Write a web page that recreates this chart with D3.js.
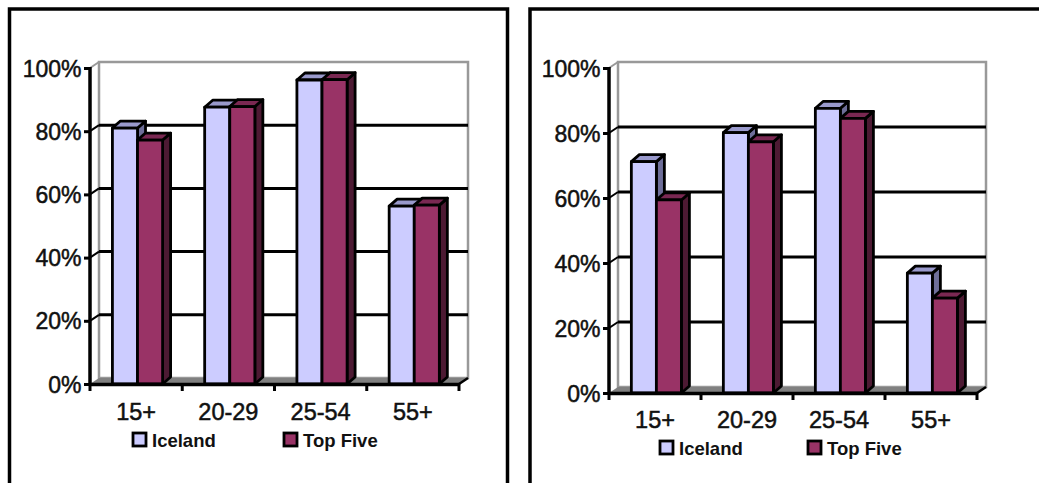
<!DOCTYPE html>
<html>
<head>
<meta charset="utf-8">
<script src="https://cdn.jsdelivr.net/npm/d3@7/dist/d3.min.js"></script>
<style>
  html, body { margin: 0; padding: 0; background: #fff; }
  svg { display: block; }
  text { font-family: "Liberation Sans", Arial, sans-serif; }
</style>
</head>
<body>
<svg id="chart" width="1039" height="483"></svg>
<script>
// ---- data ----
const categories = ["15+", "20-29", "25-54", "55+"];
const seriesNames = ["Iceland", "Top Five"];
const yTicks = [0, 20, 40, 60, 80, 100];
const yTickLabels = ["0%", "20%", "40%", "60%", "80%", "100%"];
// left chart
const leftIceland = [81, 87.6, 96.2, 56.3];
const leftTopFive = [77.2, 87.8, 96.3, 56.6];
// right chart
const rightIceland = [71.2, 80.1, 87.6, 36.9];
const rightTopFive = [59.4, 77.3, 84.5, 29.2];

// ---- styles ----
const colors = {
  "Iceland":  { front: "#CCCCFF", top: "#9999CC", side: "#6E6E99" },
  "Top Five": { front: "#993366", top: "#7A2852", side: "#4D1A33" }
};

const svg = d3.select("#chart");

// panel borders
svg.append("rect").attr("x", 9.5).attr("y", 9).attr("width", 498).attr("height", 500)
  .attr("fill", "none").attr("stroke", "#000").attr("stroke-width", 3.5);
svg.append("rect").attr("x", 530).attr("y", 9).attr("width", 540).attr("height", 500)
  .attr("fill", "none").attr("stroke", "#000").attr("stroke-width", 3.5);

function drawChart(cfg, iceland, topFive) {
  const g = svg.append("g");
  const wdx = 9, wdy = -6;   // wall depth
  const bdx = 8, bdy = -7;   // bar depth
  const x0 = d3.scaleBand().domain(categories).range([cfg.x0, cfg.x1]).padding(0);
  const bw = x0.bandwidth();
  const x1 = d3.scaleBand().domain(seriesNames).range([bw * 0.243, bw * 0.787]).padding(0);
  const y = d3.scaleLinear().domain([0, 100]).range([cfg.yb, cfg.yt]);

  // back wall
  g.append("rect")
    .attr("x", cfg.x0 + wdx).attr("y", y(100) + wdy)
    .attr("width", cfg.x1 - cfg.x0).attr("height", y(0) - y(100))
    .attr("fill", "#fff").attr("stroke", "#999").attr("stroke-width", 2.5);

  // gridlines on back wall + side diagonals
  yTicks.filter(v => v > 0 && v < 100).forEach(v => {
    g.append("line")
      .attr("x1", cfg.x0 + wdx).attr("x2", cfg.x1 + wdx)
      .attr("y1", y(v) + wdy).attr("y2", y(v) + wdy)
      .attr("stroke", "#000").attr("stroke-width", 3);
    g.append("line")
      .attr("x1", cfg.x0).attr("x2", cfg.x0 + wdx)
      .attr("y1", y(v)).attr("y2", y(v) + wdy)
      .attr("stroke", "#000").attr("stroke-width", 2);
  });
  // top diagonal (gray)
  g.append("line")
    .attr("x1", cfg.x0).attr("x2", cfg.x0 + wdx)
    .attr("y1", y(100)).attr("y2", y(100) + wdy)
    .attr("stroke", "#999").attr("stroke-width", 2);

  // floor
  g.append("polygon")
    .attr("points", [
      [cfg.x0, y(0)], [cfg.x1, y(0)], [cfg.x1 + wdx, y(0) + wdy], [cfg.x0 + wdx, y(0) + wdy]
    ].map(p => p.join(",")).join(" "))
    .attr("fill", "#808080");
  g.append("line")
    .attr("x1", cfg.x1).attr("x2", cfg.x1 + wdx)
    .attr("y1", y(0)).attr("y2", y(0) + wdy)
    .attr("stroke", "#000").attr("stroke-width", 2.5);

  // bars
  categories.forEach((c, i) => {
    [["Iceland", iceland[i]], ["Top Five", topFive[i]]].forEach(([s, v]) => {
      const xl = x0(c) + x1(s), xr = xl + x1.bandwidth();
      const yt = y(v), yb = y(0);
      const col = colors[s];
      const bar = g.append("g").attr("stroke", "#000").attr("stroke-width", 2.8)
        .attr("stroke-linejoin", "round");
      // side
      bar.append("polygon")
        .attr("points", [[xr, yb], [xr + bdx, yb + bdy], [xr + bdx, yt + bdy], [xr, yt]].map(p => p.join(",")).join(" "))
        .attr("fill", col.side);
      // top
      bar.append("polygon")
        .attr("points", [[xl, yt], [xl + bdx, yt + bdy], [xr + bdx, yt + bdy], [xr, yt]].map(p => p.join(",")).join(" "))
        .attr("fill", col.top);
      // front
      bar.append("rect")
        .attr("x", xl).attr("y", yt).attr("width", xr - xl).attr("height", yb - yt)
        .attr("fill", col.front);
    });
  });

  // y axis
  g.append("line")
    .attr("x1", cfg.x0).attr("x2", cfg.x0)
    .attr("y1", y(100) - 1).attr("y2", y(0) + 1.5)
    .attr("stroke", "#000").attr("stroke-width", 3.5);
  const yAxis = d3.axisLeft(y).tickValues(yTicks).tickSize(6).tickSizeOuter(0)
    .tickFormat((d, i) => yTickLabels[i]);
  const ya = g.append("g").attr("transform", `translate(${cfg.x0},0)`).call(yAxis);
  ya.select(".domain").remove();
  ya.selectAll(".tick line").attr("stroke", "#000").attr("stroke-width", 3);
  ya.selectAll(".tick text")
    .attr("x", -8.5).attr("dy", null).attr("y", 8)
    .attr("font-size", 23).attr("fill", "#111")
    .attr("stroke", "#111").attr("stroke-width", 0.5)
    .attr("font-family", '"Liberation Sans", Arial, sans-serif');

  // x axis
  const xAxis = d3.axisBottom(x0).tickSize(0).tickSizeOuter(0);
  const xa = g.append("g").attr("transform", `translate(0,${y(0)})`).call(xAxis);
  xa.select(".domain").attr("stroke", "#000").attr("stroke-width", 3.5);
  xa.selectAll(".tick text")
    .attr("y", cfg.labelY - y(0)).attr("dy", null)
    .attr("font-size", 23.5).attr("fill", "#111")
    .attr("stroke", "#111").attr("stroke-width", 0.5)
    .attr("font-family", '"Liberation Sans", Arial, sans-serif');
  // category boundary ticks
  const bounds = categories.map(c => x0(c)).concat([cfg.x1]);
  g.selectAll(null).data(bounds).enter().append("line")
    .attr("x1", d => d).attr("x2", d => d)
    .attr("y1", y(0)).attr("y2", y(0) + 7)
    .attr("stroke", "#000").attr("stroke-width", 3);

  // legend
  const lg = g.append("g");
  seriesNames.forEach((s, i) => {
    const lx = cfg.legendX[i];
    lg.append("rect")
      .attr("x", lx).attr("y", cfg.legendY - 14)
      .attr("width", 13).attr("height", 13)
      .attr("fill", colors[s].front).attr("stroke", "#000").attr("stroke-width", 2.8);
    lg.append("text")
      .attr("x", lx + 19).attr("y", cfg.legendY)
      .attr("font-size", 18.5).attr("font-weight", "bold").attr("fill", "#111")
      .text(s);
  });
}

drawChart({ x0: 90, x1: 459, yb: 384, yt: 68, labelY: 420, legendY: 447, legendX: [133, 284] },
  leftIceland, leftTopFive);
drawChart({ x0: 609, x1: 977, yb: 393, yt: 68, labelY: 428, legendY: 455, legendX: [660, 808] },
  rightIceland, rightTopFive);
</script>
</body>
</html>
